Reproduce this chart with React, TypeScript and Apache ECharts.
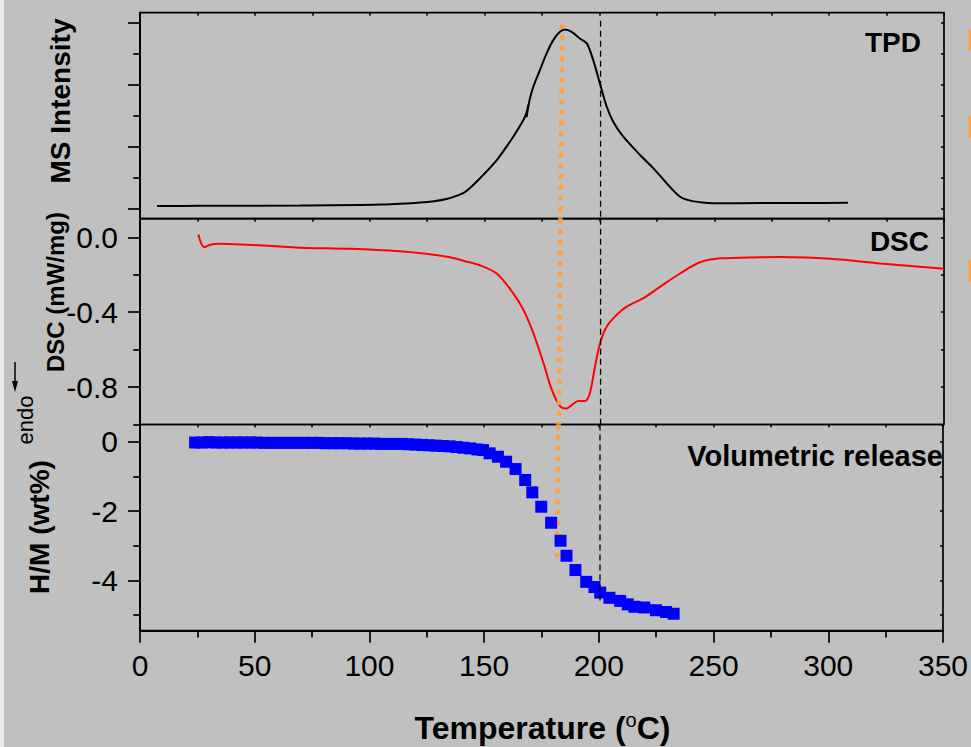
import React, { useEffect, useRef } from "react";
import * as echarts from "echarts";

// ---- Data ----
const xTickValues = [0, 50, 100, 150, 200, 250, 300, 350];

// TPD (MS intensity, arbitrary units)
const tpdT = [7.4, 26.1, 69.7, 104.5, 121.9, 128.0, 133.5, 137.8, 141.5, 144.6, 148.0, 155.3, 162.5, 166.9, 168.2, 169.1, 168.3, 169.6, 171.2, 174.1, 177.0, 179.9, 182.8, 185.0, 187.9, 191.5, 194.5, 197.3, 200.2, 203.2, 206.0, 210.4, 217.7, 223.5, 229.3, 235.1, 240.0, 245.0, 252.5, 269.9, 287.3, 308.2];
const tpdI = [0.037, 0.040, 0.045, 0.06, 0.094, 0.115, 0.150, 0.200, 0.263, 0.36, 0.485, 0.78, 1.157, 1.426, 1.54, 1.685, 1.475, 1.75, 1.964, 2.234, 2.504, 2.719, 2.853, 2.892, 2.853, 2.746, 2.666, 2.396, 2.019, 1.641, 1.399, 1.157, 0.861, 0.646, 0.404, 0.187, 0.12, 0.095, 0.08, 0.086, 0.086, 0.09];

// DSC (mW/mg)
const dscT = [25.4, 27.9, 30.5, 34.8, 46.4, 60.9, 69.7, 91.4, 113.2, 126.2, 135.0, 141.5, 148.0, 155.3, 162.5, 166.9, 171.2, 175.6, 179.2, 182.8, 185.5, 187.9, 190.8, 193.7, 195.9, 198.1, 200.3, 203.2, 207.5, 211.9, 219.1, 226.4, 235.1, 243.8, 252.5, 269.9, 278.6, 304.7, 322.1, 350];
const dscV = [0.016, -0.052, -0.039, -0.034, -0.039, -0.048, -0.055, -0.061, -0.074, -0.090, -0.106, -0.127, -0.149, -0.193, -0.299, -0.387, -0.511, -0.670, -0.812, -0.901, -0.915, -0.897, -0.874, -0.874, -0.830, -0.688, -0.564, -0.476, -0.414, -0.370, -0.325, -0.264, -0.193, -0.133, -0.112, -0.106, -0.105, -0.118, -0.140, -0.167];

// Volumetric release H/M (wt%)
const volT = [24, 27, 30, 33, 36, 39, 42, 45, 48, 51, 54, 57, 60, 63, 66, 69, 72, 75, 78, 81, 84, 87, 90, 93, 96, 99, 102, 105, 108, 111, 114, 117, 120, 123, 126, 129, 132, 135, 138, 141, 144, 147, 149.5, 152.4, 156.0, 159.6, 163.7, 167.9, 171.0, 174.9, 179.2, 183.3, 185.9, 189.8, 194.5, 198.1, 200.6, 204.6, 209.3, 212.6, 215.5, 219.8, 224.9, 229.3, 232.6];
const volHM = [-0.02, -0.02, -0.01, -0.02, -0.02, -0.02, -0.02, -0.02, -0.02, -0.02, -0.03, -0.03, -0.03, -0.03, -0.03, -0.03, -0.03, -0.03, -0.03, -0.04, -0.04, -0.04, -0.04, -0.05, -0.05, -0.05, -0.05, -0.06, -0.06, -0.06, -0.06, -0.07, -0.08, -0.09, -0.10, -0.11, -0.12, -0.13, -0.15, -0.17, -0.19, -0.22, -0.237, -0.332, -0.430, -0.574, -0.785, -1.102, -1.457, -1.873, -2.335, -2.854, -3.287, -3.700, -4.04, -4.19, -4.35, -4.50, -4.59, -4.69, -4.76, -4.78, -4.86, -4.91, -4.96];

// Reference lines
const peakLineT = [183.8, 183.0, 182.3, 181.8]; // orange dotted, top -> bottom
const refLineT = 200.5; // black dashed

// Axis ticks
const tpdMajor = [0, 1, 2, 3];
const tpdMinor = [0.5, 1.5, 2.5];
const dscMajor = [0, -0.4, -0.8];
const dscMinor = [-0.2, -0.6, -1.0];
const volMajor = [0, -2, -4];
const volMinor = [-1, -3, -5];

const FONT = "'Liberation Sans', Arial, sans-serif";
const ORANGE = "#ffa040";

const grids = [
  { left: 140, top: 12.7, width: 804, height: 206 },
  { left: 140, top: 218.7, width: 804, height: 205.8 },
  { left: 140, top: 424.5, width: 804, height: 206.2 },
];

const yRanges = [
  { min: -0.168, max: 3.162 },
  { min: -1.0, max: 0.1 },
  { min: -5.45, max: 0.5 },
];

function zip(a: number[], b: number[]) {
  return a.map((v, i) => [v, b[i]]);
}

function buildOption() {
  const xAxis: any[] = [];
  const yAxis: any[] = [];
  grids.forEach((_, g) => {
    const isBottom = g === 2;
    xAxis.push({
      type: "value",
      gridIndex: g,
      min: 0,
      max: 350,
      interval: 50,
      position: "bottom",
      show: isBottom,
      axisLine: { show: true, onZero: false, lineStyle: { color: "#000", width: 2 } },
      axisTick: { show: true, length: 12, lineStyle: { color: "#000", width: 1.7 } },
      minorTick: { show: true, splitNumber: 2, length: 6.7, lineStyle: { color: "#000", width: 1.7 } },
      axisLabel: {
        show: true,
        fontSize: 30,
        color: "#000",
        fontFamily: FONT,
        margin: 20,
        customValues: xTickValues,
      },
      splitLine: { show: false },
    });
    xAxis.push({
      type: "value",
      gridIndex: g,
      min: 0,
      max: 350,
      interval: 50,
      position: "top",
      axisLine: { show: false, onZero: false },
      axisTick: { show: true, inside: true, length: 3, lineStyle: { color: "#000", width: 1.5 } },
      minorTick: { show: true, splitNumber: 2, length: 3, lineStyle: { color: "#000", width: 1.5 } },
      axisLabel: { show: false },
      splitLine: { show: false },
    });
  });

  const majors = [tpdMajor, dscMajor, volMajor];
  const minors = [tpdMinor, dscMinor, volMinor];
  const fmts = [
    () => "",
    (v: number) => v.toFixed(1),
    (v: number) => String(v),
  ];
  grids.forEach((_, g) => {
    const r = yRanges[g];
    yAxis.push({
      type: "value",
      gridIndex: g,
      min: r.min,
      max: r.max,
      position: "left",
      axisLine: { show: true, onZero: false, lineStyle: { color: "#000", width: 2 } },
      axisTick: { show: true, length: 12, customValues: majors[g], lineStyle: { color: "#000", width: 1.7 } },
      axisLabel: {
        show: g !== 0,
        customValues: majors[g],
        formatter: fmts[g],
        fontSize: 30,
        color: "#000",
        fontFamily: FONT,
        margin: 22,
      },
      splitLine: { show: false },
    });
    yAxis.push({
      type: "value",
      gridIndex: g,
      min: r.min,
      max: r.max,
      position: "left",
      axisLine: { show: false, onZero: false },
      axisTick: { show: true, length: 6.7, customValues: minors[g], lineStyle: { color: "#000", width: 1.7 } },
      axisLabel: { show: false },
      splitLine: { show: false },
    });
    yAxis.push({
      type: "value",
      gridIndex: g,
      min: r.min,
      max: r.max,
      position: "right",
      axisLine: { show: false, onZero: false },
      axisTick: {
        show: true,
        inside: true,
        length: 3,
        customValues: [...majors[g], ...minors[g]],
        lineStyle: { color: "#000", width: 1.5 },
      },
      axisLabel: { show: false },
      splitLine: { show: false },
    });
  });

  const series: any[] = [];
  series.push({
    name: "TPD",
    type: "line",
    xAxisIndex: 0,
    yAxisIndex: 0,
    data: zip(tpdT, tpdI),
    showSymbol: false,
    symbol: "none",
    smooth: 0.3,
    lineStyle: { color: "#000", width: 2 },
    z: 2,
  });
  series.push({
    name: "DSC",
    type: "line",
    xAxisIndex: 2,
    yAxisIndex: 3,
    data: zip(dscT, dscV),
    showSymbol: false,
    symbol: "none",
    smooth: 0.3,
    lineStyle: { color: "#ff0000", width: 2 },
    z: 2,
  });
  // orange dotted peak line, one segment per panel
  const orangeY = [
    [2.97, yRanges[0].min],
    [yRanges[1].max, yRanges[1].min],
    [yRanges[2].max, -3.35],
  ];
  [0, 1, 2].forEach((g) => {
    series.push({
      type: "line",
      xAxisIndex: g * 2,
      yAxisIndex: g * 3,
      data: [
        [peakLineT[g], orangeY[g][0]],
        [peakLineT[g + 1], orangeY[g][1]],
      ],
      symbol: "none",
      lineStyle: { color: ORANGE, width: 4.5, type: [4.5, 6.2], cap: "butt" },
      z: 3,
      silent: true,
    });
  });
  series.push({
    name: "Volumetric release",
    type: "scatter",
    xAxisIndex: 4,
    yAxisIndex: 6,
    data: zip(volT, volHM),
    symbol: "rect",
    symbolSize: 12,
    itemStyle: { color: "#0000ff", opacity: 1 },
    z: 4,
  });
  const dashY = [
    [3.03, yRanges[0].min],
    [yRanges[1].max, yRanges[1].min],
    [yRanges[2].max, -4.62],
  ];
  [0, 1, 2].forEach((g) => {
    series.push({
      type: "line",
      xAxisIndex: g * 2,
      yAxisIndex: g * 3,
      data: [
        [refLineT, dashY[g][0]],
        [refLineT, dashY[g][1]],
      ],
      symbol: "none",
      lineStyle: { color: "#000", width: 1.3, type: [6, 4] },
      z: 5,
      silent: true,
    });
  });

  const txt = (x: number, y: number, text: string, size: number, opts: any = {}) => ({
    type: "text",
    x,
    y,
    rotation: opts.rotation || 0,
    style: {
      text,
      fontSize: size,
      fontWeight: opts.weight || "bold",
      fontFamily: FONT,
      fill: "#000",
      align: opts.align || "center",
      verticalAlign: "middle",
    },
    z: 10,
  });

  const graphic: any[] = [
    { type: "rect", shape: { x: 0, y: 0, width: 4, height: 747 }, style: { fill: "#ececec" }, z: 0 },
    { type: "rect", shape: { x: 968.5, y: 29.3, width: 3, height: 21.4 }, style: { fill: ORANGE } },
    { type: "rect", shape: { x: 968.5, y: 116, width: 3, height: 21.3 }, style: { fill: ORANGE } },
    { type: "rect", shape: { x: 968.5, y: 260, width: 3, height: 21.7 }, style: { fill: ORANGE } },
    txt(921, 42.5, "TPD", 28, { align: "right" }),
    txt(929, 241, "DSC", 28, { align: "right" }),
    txt(943, 456, "Volumetric release", 29, { align: "right" }),
    txt(60.5, 101, "MS Intensity", 28, { rotation: Math.PI / 2 }),
    txt(55.5, 292, "DSC (mW/mg)", 24, { rotation: Math.PI / 2 }),
    txt(39.5, 527, "H/M (wt%)", 28, { rotation: Math.PI / 2 }),
    txt(25.5, 420, "endo", 22, { rotation: Math.PI / 2, weight: "normal" }),
    {
      type: "line",
      shape: { x1: 15, y1: 362, x2: 15, y2: 384 },
      style: { stroke: "#000", lineWidth: 1.5 },
    },
    {
      type: "polygon",
      shape: { points: [[12, 381], [18, 381], [15, 392]] },
      style: { fill: "#000" },
    },
    {
      type: "text",
      x: 542.5,
      y: 727.5,
      style: {
        text: "{b|Temperature (}{s|o}{b|C)}",
        align: "center",
        verticalAlign: "middle",
        fontFamily: FONT,
        fill: "#000",
        rich: {
          b: { fontSize: 32, fontWeight: "bold", fontFamily: FONT, fill: "#000", lineHeight: 36 },
          s: { fontSize: 20, fontWeight: "normal", fontFamily: FONT, fill: "#000", lineHeight: 12, verticalAlign: "top" },
        },
      },
      z: 10,
    },
  ];

  return {
    animation: false,
    backgroundColor: "#c0c0c0",
    textStyle: { fontFamily: FONT },
    grid: grids.map((g) => ({
      ...g,
      show: true,
      borderColor: "#000",
      borderWidth: 1.7,
      backgroundColor: "transparent",
      containLabel: false,
    })),
    xAxis,
    yAxis,
    series,
    graphic,
  };
}

export default function App() {
  const ref = useRef<HTMLDivElement>(null);
  useEffect(() => {
    if (!ref.current) return;
    const chart = echarts.init(ref.current, null, { renderer: "svg" });
    chart.setOption(buildOption() as any);
    return () => chart.dispose();
  }, []);
  return (
    <div
      ref={ref}
      style={{ position: "fixed", left: 0, top: 0, width: 971, height: 747 }}
    />
  );
}
